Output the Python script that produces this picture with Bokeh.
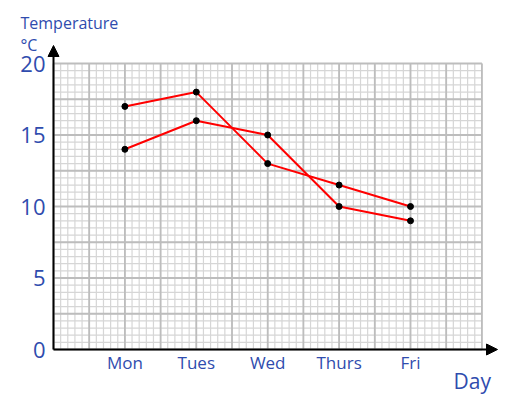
import numpy as np
from bokeh.plotting import figure
from bokeh.models import Range1d, Arrow, NormalHead
from bokeh.core.properties import value
from bokeh.embed import file_html
from bokeh.resources import INLINE

days = ["Mon", "Tues", "Wed", "Thurs", "Fri"]
day_pos = [1, 2, 3, 4, 5]
temp_a = [17, 18, 13, 11.5, 10]
temp_b = [14, 16, 15, 10, 9]
y_ticks = [0, 5, 10, 15, 20]
y_tick_labels = ["0", "5", "10", "15", "20"]

X_MAX, Y_MAX = 6, 20
BLUE = "#2f4cae"
FONT = "Open Sans"

W, H = 505, 394
PX_X, PX_Y = 71.4, 14.3      # pixels per data unit
OX, OY = 53, 349             # origin in figure pixels (from top-left)

p = figure(width=W, height=H, output_backend="svg", toolbar_location=None,
           x_range=Range1d(-OX / PX_X, (W - OX) / PX_X),
           y_range=Range1d(-(H - OY) / PX_Y, OY / PX_Y),
           min_border=0)
p.outline_line_color = None
p.axis.visible = False
p.xgrid.visible = False
p.ygrid.visible = False

# graph-paper grid
fx = np.round(np.arange(0, X_MAX + 1e-9, 0.1), 3)
fy = np.round(np.arange(0, Y_MAX + 1e-9, 0.5), 3)
mx = np.round(np.arange(0, X_MAX + 1e-9, 0.5), 3)
my = np.round(np.arange(0, Y_MAX + 1e-9, 2.5), 3)
p.segment(x0=fx, y0=0, x1=fx, y1=Y_MAX, line_color="#d6d6d6", line_width=1.2)
p.segment(x0=0, y0=fy, x1=X_MAX, y1=fy, line_color="#d6d6d6", line_width=1.2)
p.segment(x0=mx, y0=0, x1=mx, y1=Y_MAX, line_color="#bdbdbd", line_width=1.8)
p.segment(x0=0, y0=my, x1=X_MAX, y1=my, line_color="#bdbdbd", line_width=1.8)

# axes arrows
p.add_layout(Arrow(x_start=0, y_start=0, x_end=(497 - OX) / PX_X, y_end=0, line_width=2,
                   line_color="black",
                   end=NormalHead(size=11, fill_color="black", line_color="black")))
p.add_layout(Arrow(x_start=0, y_start=0, x_end=0, y_end=(OY - 45) / PX_Y, line_width=2,
                   line_color="black",
                   end=NormalHead(size=11, fill_color="black", line_color="black")))

# data
p.line(day_pos, temp_a, line_color="#ff0000", line_width=2)
p.line(day_pos, temp_b, line_color="#ff0000", line_width=2)
p.scatter(day_pos, temp_a, size=6, color="black")
p.scatter(day_pos, temp_b, size=6, color="black")

# tick labels
p.text(x=day_pos, y=[-13 / PX_Y] * len(day_pos), text=days, text_color=BLUE,
       text_font=value(FONT), text_font_size="17px", text_align="center",
       text_baseline="middle")
p.text(x=[-8 / PX_X] * len(y_ticks), y=y_ticks, text=y_tick_labels, text_color=BLUE,
       text_font=value(FONT), text_font_size="22px", text_align="right",
       text_baseline="middle")

# titles
p.text(x=[(20 - OX) / PX_X], y=[(OY - 22) / PX_Y], text=["Temperature"], text_color=BLUE,
       text_font=value(FONT), text_font_size="16px", text_baseline="middle")
p.text(x=[(20 - OX) / PX_X], y=[(OY - 44) / PX_Y], text=["°C"], text_color=BLUE,
       text_font=value(FONT), text_font_size="16px", text_baseline="middle")
p.text(x=[(453 - OX) / PX_X], y=[(OY - 380) / PX_Y], text=["Day"], text_color=BLUE,
       text_font=value(FONT), text_font_size="21px", text_baseline="middle")

open("out.html", "w").write(file_html(p, INLINE))
